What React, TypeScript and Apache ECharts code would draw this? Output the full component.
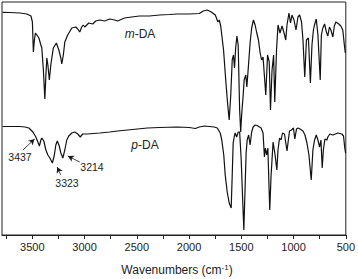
import React, { useEffect, useRef } from "react";
import * as echarts from "echarts";

// Wavenumber (cm-1) and relative transmittance (a.u.)
const mdaWavenumbers = [3785, 3714, 3618, 3552, 3513, 3499, 3490, 3480, 3470, 3456, 3437, 3418, 3409, 3394, 3380, 3370, 3361, 3351, 3337, 3323, 3299, 3270, 3246, 3227, 3218, 3203, 3189, 3161, 3122, 3084, 3065, 3046, 3027, 3013, 2998, 2979, 2960, 2922, 2894, 2855, 2808, 2760, 2712, 2684, 2617, 2550, 2474, 2379, 2283, 2188, 2112, 1997, 1902, 1864, 1826, 1787, 1749, 1724, 1711, 1697, 1670, 1647, 1630, 1616, 1601, 1587, 1575, 1565, 1554, 1542, 1530, 1516, 1506, 1497, 1482, 1473, 1457, 1447, 1432, 1416, 1401, 1384, 1368, 1352, 1336, 1320, 1306, 1292, 1266, 1249, 1233, 1221, 1206, 1191, 1180, 1163, 1149, 1130, 1110, 1091, 1075, 1063, 1044, 1029, 1015, 996, 977, 958, 942, 924, 910, 893, 877, 858, 839, 824, 810, 800, 783, 767, 745, 734, 720, 703, 686, 672, 657, 643, 624, 610, 595, 567, 548, 529, 514, 505];
const mdaValues = [222.7, 222.5, 222, 221, 219, 213, 183, 195, 202, 200, 197, 190, 187, 165, 136, 160, 177, 170, 155, 170, 187, 192, 185, 177, 171, 180, 193, 200, 207, 208, 206, 203, 208, 210, 208, 210, 212, 211, 214, 215, 214, 216, 215, 214, 217, 218, 219, 219, 220, 220.5, 221, 221, 221.5, 224, 225, 223, 220, 213, 215, 209, 185, 152, 130, 115, 140, 175, 180, 167, 187, 199, 190, 125, 103, 120, 140, 155, 160, 148, 169, 192, 207, 215, 210, 202, 195, 182, 175, 178, 140, 180, 173, 125, 165, 180, 133, 185, 210, 202, 209, 202, 195, 210, 222, 212, 220, 215, 205, 218, 220, 213, 195, 158, 195, 197, 152, 190, 205, 210, 216, 200, 155, 200, 207, 211, 203, 199, 208, 205, 198, 209, 213, 211, 209, 205, 190, 182];

const pdaWavenumbers = [3785, 3714, 3618, 3571, 3533, 3494, 3466, 3447, 3432, 3418, 3409, 3390, 3370, 3351, 3332, 3308, 3289, 3275, 3261, 3242, 3227, 3208, 3189, 3170, 3151, 3122, 3094, 3065, 3041, 3018, 2970, 2913, 2855, 2760, 2684, 2588, 2493, 2398, 2283, 2112, 1997, 1940, 1902, 1854, 1806, 1759, 1730, 1702, 1687, 1668, 1654, 1635, 1616, 1597, 1587, 1578, 1568, 1559, 1544, 1530, 1516, 1501, 1487, 1476, 1463, 1454, 1444, 1430, 1416, 1401, 1387, 1368, 1349, 1311, 1292, 1279, 1270, 1258, 1246, 1228, 1215, 1196, 1177, 1160, 1149, 1134, 1120, 1106, 1087, 1063, 1039, 1020, 1001, 988, 972, 958, 939, 910, 891, 872, 853, 831, 815, 799, 783, 767, 751, 738, 726, 715, 700, 681, 672, 653, 624, 600, 576, 557, 538, 522, 510, 502];
const pdaValues = [108.5, 108.5, 108.5, 108, 107, 103, 98, 93, 89, 95, 97, 94, 85, 80, 77, 72, 80, 90, 94, 89, 82, 77, 85, 95, 99, 102, 103, 101, 98, 101, 101, 101.5, 102, 103, 104, 105, 106, 107, 107.5, 108, 107.5, 106.5, 108, 109, 108.5, 108, 107, 102, 95, 80, 60, 43, 32, 27, 60, 92, 98, 102, 98, 103, 103, 75, 35, 5, 50, 82, 95, 100, 90, 103, 108, 110, 109.5, 107, 102, 78, 87, 80, 87, 25, 60, 93, 80, 65, 85, 97, 95, 102, 101, 84, 104, 105, 107, 96, 106, 107, 106, 104, 100, 92, 80, 55, 85, 95, 100, 95, 88, 95, 67, 85, 96, 95, 98, 101, 100, 101, 102, 101.5, 101, 99, 87, 82];

// Peak annotations: label, arrow start [wn, value], arrow end [wn, value]
const peakLabels = ["3437", "3323", "3214"];
const arrowStarts = [[3590, 85], [3227, 60], [3046, 73]];
const arrowEnds = [[3478, 96], [3262, 68], [3160, 79]];

const xTickLabels = [500, 1000, 1500, 2000, 2500, 3000, 3500];

const FONT = "Liberation Sans, Arial, Helvetica, sans-serif";

export default function App() {
  const ref = useRef<HTMLDivElement>(null);

  useEffect(() => {
    if (!ref.current) return;
    const chart = echarts.init(ref.current, null, { renderer: "svg" });
    const mda = mdaWavenumbers.map((w, i) => [w, mdaValues[i]]);
    const pda = pdaWavenumbers.map((w, i) => [w, pdaValues[i]]);

    chart.setOption({
      animation: false,
      backgroundColor: "#fff",
      grid: {
        left: 2,
        top: 2,
        width: 345,
        height: 233,
        show: true,
        borderColor: "#222",
        borderWidth: 1,
        backgroundColor: "transparent",
      },
      xAxis: {
        type: "value",
        inverse: true,
        min: 500,
        max: 3790,
        interval: 250,
        axisLine: { show: true, onZero: false, lineStyle: { color: "#222", width: 1 } },
        axisTick: { show: true, inside: false, length: 4, lineStyle: { color: "#222" } },
        splitLine: { show: false },
        axisLabel: {
          margin: 6,
          fontFamily: FONT,
          fontSize: 11,
          color: "#222",
          showMaxLabel: false,
          formatter: (v: number) => (xTickLabels.indexOf(v) >= 0 ? String(v) : ""),
        },
      },
      yAxis: {
        type: "value",
        min: 0,
        max: 233,
        show: false,
      },
      series: [
        {
          name: "m-DA",
          type: "line",
          data: mda,
          showSymbol: false,
          smooth: false,
          lineStyle: { color: "#111", width: 1.2 },
          silent: true,
        },
        {
          name: "p-DA",
          type: "line",
          data: pda,
          showSymbol: false,
          smooth: false,
          lineStyle: { color: "#111", width: 1.2 },
          silent: true,
          markLine: {
            silent: true,
            symbol: ["none", "arrow"],
            symbolSize: [5, 6],
            label: { show: false },
            lineStyle: { color: "#1a1a1a", width: 0.8, type: "solid" },
            data: peakLabels.map((_, i) => [
              { coord: arrowStarts[i] },
              { coord: arrowEnds[i] },
            ]),
          },
        },
      ],
      graphic: [
        {
          type: "text",
          x: 140,
          y: 34,
          style: {
            text: "{i|m}-DA",
            font: `12px ${FONT}`,
            fill: "#222",
            align: "center",
            verticalAlign: "middle",
            rich: { i: { fontStyle: "italic", fontFamily: FONT, fontSize: 12, fill: "#222" } },
          },
        },
        {
          type: "text",
          x: 145,
          y: 145,
          style: {
            text: "{i|p}-DA",
            font: `12px ${FONT}`,
            fill: "#222",
            align: "center",
            verticalAlign: "middle",
            rich: { i: { fontStyle: "italic", fontFamily: FONT, fontSize: 12, fill: "#222" } },
          },
        },
        {
          type: "text",
          x: 20,
          y: 157,
          style: { text: peakLabels[0], font: `10.5px ${FONT}`, fill: "#222", align: "center", verticalAlign: "middle" },
        },
        {
          type: "text",
          x: 67,
          y: 183,
          style: { text: peakLabels[1], font: `10.5px ${FONT}`, fill: "#222", align: "center", verticalAlign: "middle" },
        },
        {
          type: "text",
          x: 92,
          y: 167,
          style: { text: peakLabels[2], font: `10.5px ${FONT}`, fill: "#222", align: "center", verticalAlign: "middle" },
        },
        {
          type: "text",
          x: 177,
          y: 270,
          style: {
            text: "Wavenumbers (cm{sup|-1})",
            font: `12px ${FONT}`,
            fill: "#222",
            align: "center",
            verticalAlign: "middle",
            rich: {
              sup: { fontFamily: FONT, fontSize: 8, fill: "#222", verticalAlign: "top", lineHeight: 14 },
            },
          },
        },
      ],
    });

    return () => chart.dispose();
  }, []);

  return (
    <div
      ref={ref}
      style={{ position: "absolute", left: 0, top: 0, width: 358, height: 279 }}
    />
  );
}
